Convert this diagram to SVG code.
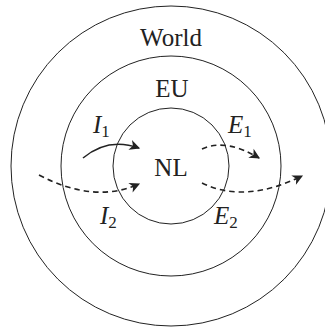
<svg xmlns="http://www.w3.org/2000/svg" width="325" height="329" viewBox="0 0 325 329">
<style>
.ring{fill:none;stroke:#222;stroke-width:1}
.lbl{font-family:"Liberation Serif",serif;font-size:25px;fill:#222;text-anchor:middle}
.math{font-family:"Liberation Serif",serif;font-size:25px;font-style:italic;fill:#222}
.sub{font-size:17px;font-style:normal}
.arr{fill:none;stroke:#222;stroke-width:1.6;marker-end:url(#tip)}
.dash{stroke-dasharray:5.5 4}
</style>
<defs>
<marker id="tip" markerUnits="userSpaceOnUse" markerWidth="14" markerHeight="14" viewBox="-10 -6 12 12" refX="0" refY="0" orient="auto">
<path d="M1 0 L-8 -4.5 L-5.5 0 L-8 4.5 Z" fill="#222"/>
</marker>
</defs>
<g id="world"><circle class="ring" cx="171" cy="166" r="160"/><text class="lbl" x="171" y="46">World</text></g>
<g id="eu"><circle class="ring" cx="171" cy="166" r="110"/><text class="lbl" x="172" y="97">EU</text></g>
<g id="nl"><circle class="ring" cx="171" cy="166" r="58"/><text class="lbl" x="171" y="176">NL</text></g>
<g id="connectors">
<path class="arr" d="M83 158 Q108 137 139 148"/>
<path class="arr dash" d="M39 175 Q94 204 139 184"/>
<path class="arr dash" d="M202 149 Q225 138 259 158"/>
<path class="arr dash" d="M202 183 Q245 204 302 176"/>
</g>
<g id="labels">
<text class="math" x="93" y="133">I<tspan class="sub" dy="4">1</tspan></text>
<text class="math" x="228" y="133">E<tspan class="sub" dy="4">1</tspan></text>
<text class="math" x="100" y="224">I<tspan class="sub" dy="4">2</tspan></text>
<text class="math" x="214" y="224">E<tspan class="sub" dy="4">2</tspan></text>
</g>
</svg>
